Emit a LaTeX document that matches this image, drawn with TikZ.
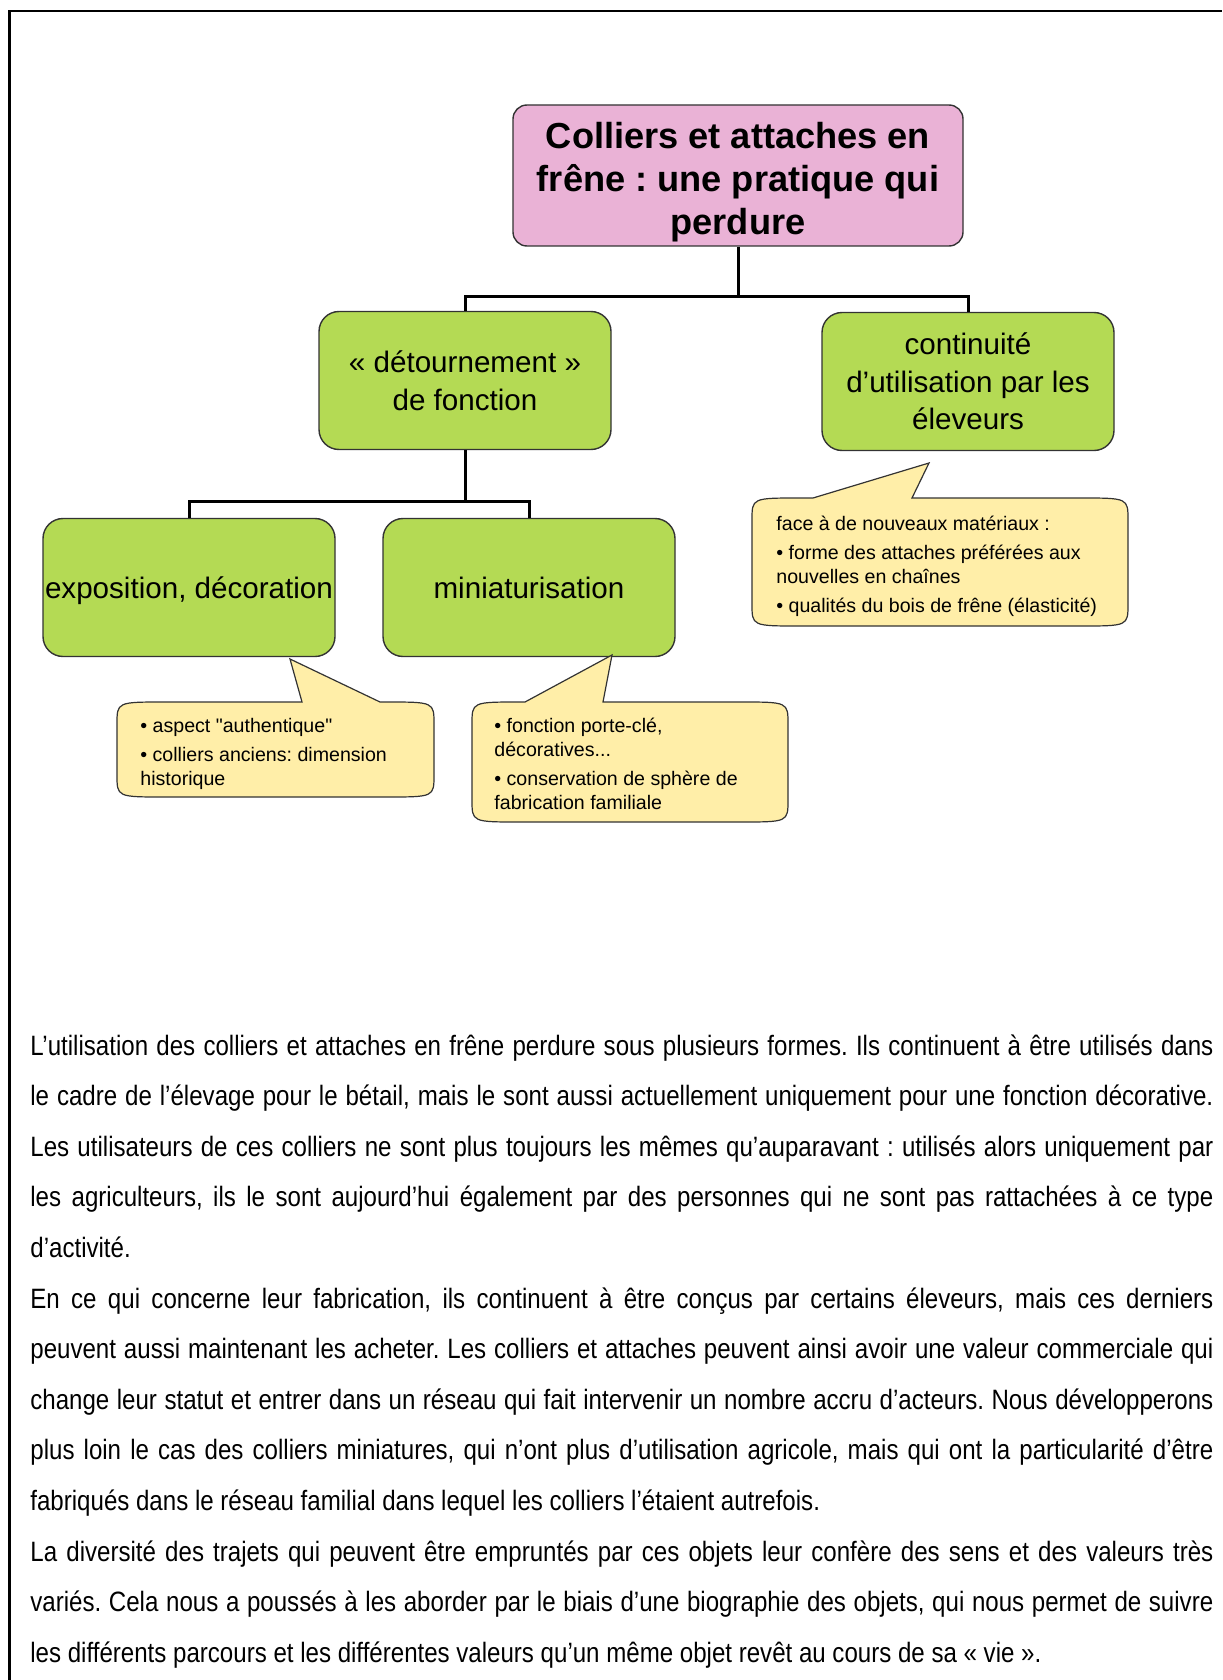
\documentclass[tikz,border=0pt]{standalone}
\usepackage{fontspec}
\setmainfont{Liberation Sans}
\newfontfamily\notefont{Liberation Sans}
\newfontfamily\corpsfont[FakeStretch=0.86]{Liberation Sans}
\AtBeginDocument{\frenchspacing}
\definecolor{rose}{RGB}{234,178,214}
\definecolor{vert}{RGB}{180,218,84}
\definecolor{jaune}{RGB}{255,238,168}
\tikzset{
  titre/.style={draw=black!80, line width=0.7pt, fill=rose, rounded corners=7pt,
    minimum width=225pt, minimum height=70.5pt, align=center, inner sep=0pt,
    text height=59pt, text depth=0pt,
    font=\fontsize{18.1}{21.5}\selectfont\bfseries},
  boite/.style={draw=black!80, line width=0.7pt, fill=vert, rounded corners=10pt,
    minimum width=146pt, minimum height=69pt, align=center, inner sep=0pt,
    text depth=0pt, font=\fontsize{14.8}{18.8}\selectfont},
  lien/.style={line width=1.5pt},
  bulle/.style={draw=black!80, line width=0.6pt, fill=jaune},
  note/.style={inner sep=0pt, anchor=west, align=left, font=\notefont\fontsize{9.8}{12}\selectfont},
}
% callout: left x, top y, right x, bottom y, base left x, tip x, tip y, base right x
\newcommand{\bulle}[8]{%
  \filldraw[bulle] (#1,#2+22) .. controls (#1,#2) .. (#1+48,#2) -- (#5,#2) -- (#6,#7)
    -- (#8,#2) -- (#3-48,#2) .. controls (#3,#2) .. (#3,#2+22) -- (#3,#4-22)
    .. controls (#3,#4) .. (#3-48,#4) -- (#1+48,#4) .. controls (#1,#4) .. (#1,#4-22) -- cycle;}
\newcommand{\ligne}[1]{\hbox to \linewidth{#1}}
\begin{document}
\begin{tikzpicture}[x=0.5pt,y=-0.5pt]
\useasboundingbox (0,0) rectangle (1222,1680);
%%% page frame
\draw[line width=1.2pt] (9.6,1680) -- (9.6,11) -- (1222,11);

%%% the boxes of the chart
\node[titre] (titre) at (738,175.5) {Colliers et attaches en\\frêne : une pratique qui\\perdure};
\node[boite] (detour) at (465,380.5) {« détournement »\\de fonction};
\node[boite] (contin) at (968,381.5) {continuité\\d’utilisation par les\\éleveurs};
\node[boite] (expo) at (189,587.5) {exposition, décoration};
\node[boite] (mini) at (529,587.5) {miniaturisation};

%%% the links
\coordinate (j1) at (738,296);
\coordinate (j2) at (465,501);
\draw[lien] (titre.south) -- (j1) -| (detour.north);
\draw[lien] (j1) -| (contin.north);
\draw[lien] (detour.south) -- (j2) -| (expo.north);
\draw[lien] (j2) -| (mini.north);

%%% the callouts
\bulle{752}{498}{1128}{626}{813}{929}{463}{912}
\bulle{117}{702}{434}{797}{302}{290}{659}{380}
\bulle{472}{702}{788}{822}{525}{612}{655}{603}
\node[note] (matx) at (776,566) {face à de nouveaux matériaux :\\[2.5pt]
  • forme des attaches préférées aux\\nouvelles en chaînes\\[2.5pt]
  • qualités du bois de frêne (élasticité)};
\node[note] (auth) at (140,754) {• aspect "authentique"\\[2.5pt]
  • colliers anciens: dimension\\historique};
\node[note] (porte) at (494,764) {• fonction porte-clé,\\décoratives...\\[2.5pt]
  • conservation de sphère de\\fabrication familiale};

%%% the text below
\node[inner sep=0pt, anchor=base west] (corps) at (30,1055) {\parbox[t]{591.5pt}{%
  \corpsfont\fontsize{14}{25.3}\selectfont\frenchspacing\parindent=0pt\parskip=0pt
  \ligne{L’utilisation des colliers et attaches en frêne perdure sous plusieurs formes. Ils continuent à être utilisés dans}
  \ligne{le cadre de l’élevage pour le bétail, mais le sont aussi actuellement uniquement pour une fonction décorative.}
  \ligne{Les utilisateurs de ces colliers ne sont plus toujours les mêmes qu’auparavant : utilisés alors uniquement par}
  \ligne{les agriculteurs, ils le sont aujourd’hui également par des personnes qui ne sont pas rattachées à ce type}
  \hbox{d’activité.}
  \ligne{En ce qui concerne leur fabrication, ils continuent à être conçus par certains éleveurs, mais ces derniers}
  \ligne{peuvent aussi maintenant les acheter. Les colliers et attaches peuvent ainsi avoir une valeur commerciale qui}
  \ligne{change leur statut et entrer dans un réseau qui fait intervenir un nombre accru d’acteurs. Nous développerons}
  \ligne{plus loin le cas des colliers miniatures, qui n’ont plus d’utilisation agricole, mais qui ont la particularité d’être}
  \hbox{fabriqués dans le réseau familial dans lequel les colliers l’étaient autrefois.}
  \ligne{La diversité des trajets qui peuvent être empruntés par ces objets leur confère des sens et des valeurs très}
  \ligne{variés. Cela nous a poussés à les aborder par le biais d’une biographie des objets, qui nous permet de suivre}
  \hbox{les différents parcours et les différentes valeurs qu’un même objet revêt au cours de sa « vie ».}}};
\end{tikzpicture}
\end{document}
